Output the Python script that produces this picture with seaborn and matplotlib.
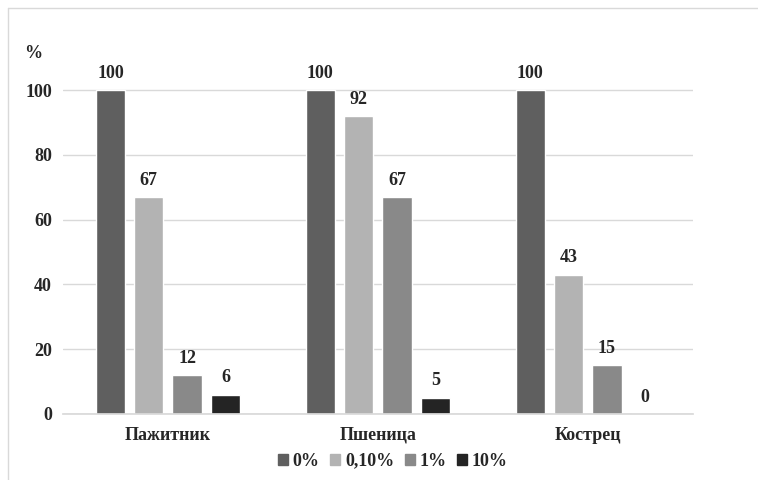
import matplotlib
matplotlib.use("Agg")
import matplotlib.pyplot as plt
import seaborn as sns
import pandas as pd
from matplotlib.patches import Rectangle
from matplotlib.lines import Line2D

categories = ["Пажитник", "Пшеница", "Кострец"]
series_names = ["0%", "0,10%", "1%", "10%"]
values_0 = [100, 100, 100]
values_010 = [67, 92, 43]
values_1 = [12, 67, 15]
values_10 = [6, 5, 0]
colors = ["#5f5f5f", "#b3b3b3", "#898989", "#242424"]

rows = []
for s, vals in zip(series_names, [values_0, values_010, values_1, values_10]):
    for c, v in zip(categories, vals):
        rows.append({"cat": c, "series": s, "value": v})
df = pd.DataFrame(rows)

sns.set_theme(style="white")
plt.rcParams["font.family"] = ["Liberation Serif", "DejaVu Serif"]
plt.rcParams["font.weight"] = "bold"

FS = 13

fig = plt.figure(figsize=(7.58, 4.8), dpi=100)
ax = fig.add_axes([0.083, 0.1375, 0.831, 0.742])

sns.barplot(data=df, x="cat", y="value", hue="series", order=categories,
            hue_order=series_names, palette=colors, width=0.73, gap=0.24,
            saturation=1, ax=ax, legend=False)

for cont in ax.containers:
    ax.bar_label(cont, fmt="%d", padding=6, fontsize=FS, fontweight="bold")

ax.set_ylim(0, 110)
ax.set_xlim(-0.5, 2.5)
ax.set_yticks([0, 20, 40, 60, 80, 100])
ax.yaxis.grid(True, color="#d9d9d9", linewidth=1)
ax.set_axisbelow(True)
for sp in ax.spines.values():
    sp.set_visible(False)
ax.spines["bottom"].set_visible(True)
ax.spines["bottom"].set_color("#d9d9d9")
ax.tick_params(axis="y", length=0, pad=8, labelsize=FS)
ax.tick_params(axis="x", length=0, pad=9, labelsize=FS)
for t in ax.get_yticklabels() + ax.get_xticklabels():
    t.set_fontweight("bold")
ax.set_xlabel("")
ax.set_ylabel("")

fig.text(33 / 758, 1 - 53 / 480, "%", fontsize=FS, fontweight="bold",
         ha="center", va="center")

handles = [Rectangle((0, 0), 1, 1, color=c) for c in colors]
fig.legend(handles, series_names, loc="center", bbox_to_anchor=(393 / 758, 1 - 461 / 480),
           ncol=4, frameon=False, handlelength=0.55, handleheight=0.55,
           handletextpad=0.25, columnspacing=0.6, prop={"weight": "bold", "size": FS})

# outer chart border (top and left visible)
fig.add_artist(Line2D([8 / 758, 1], [1 - 8 / 480, 1 - 8 / 480], color="#d9d9d9",
                      linewidth=1, transform=fig.transFigure))
fig.add_artist(Line2D([8 / 758, 8 / 758], [0, 1 - 8 / 480], color="#d9d9d9",
                      linewidth=1, transform=fig.transFigure))

fig.savefig("out.png", dpi=100)
